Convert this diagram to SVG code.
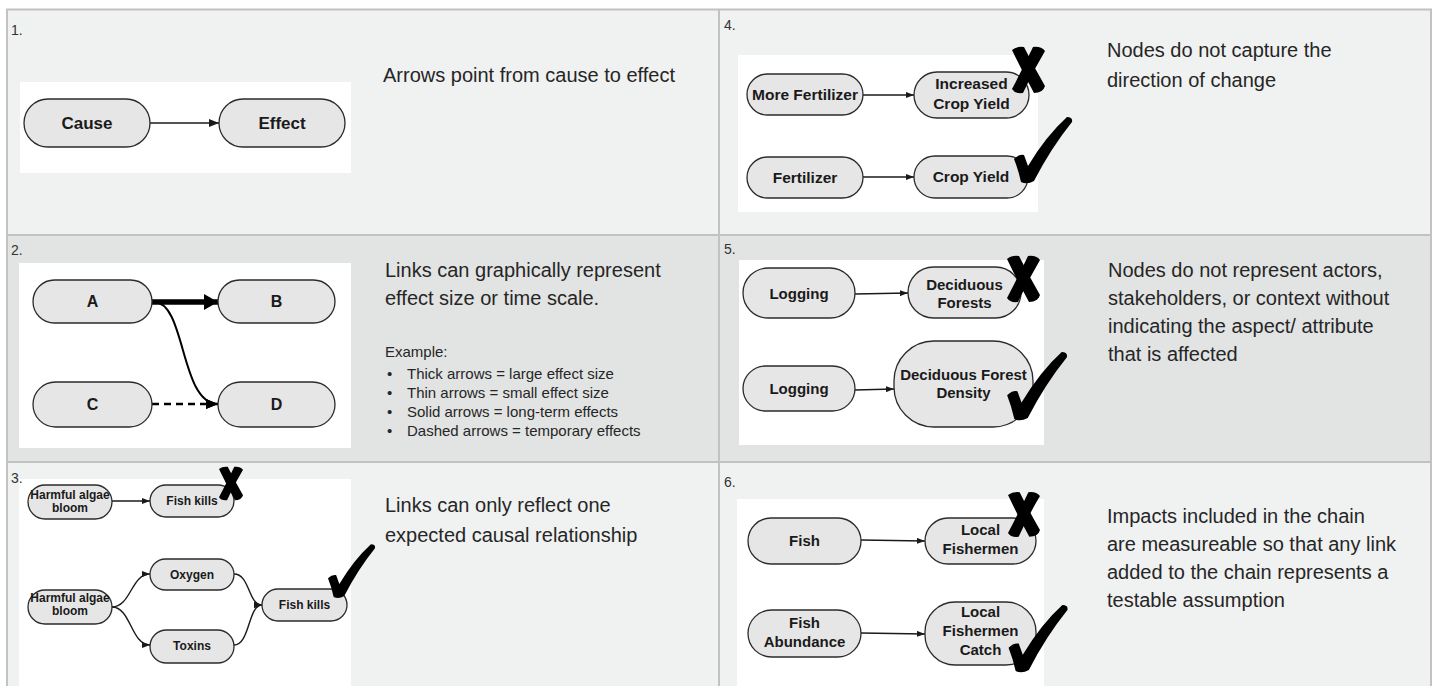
<svg xmlns="http://www.w3.org/2000/svg" width="1435" height="686" viewBox="0 0 1435 686">
<style>
.bgl{fill:#f0f1f1}
.bgd{fill:#e2e3e3}
.grid{stroke:#c2c2c2;stroke-width:2;fill:none}
.wb{fill:#ffffff}
.nd{fill:#e6e6e6;stroke:#2b2b2b;stroke-width:1.3}
.nt{font-family:"Liberation Sans",Arial,sans-serif;font-weight:bold;fill:#1a1a1a;text-anchor:middle}
.num{font-family:"Liberation Sans",Arial,sans-serif;font-size:14px;fill:#333}
.body{font-family:"Liberation Sans",Arial,sans-serif;font-size:20px;fill:#262626}
.small{font-family:"Liberation Sans",Arial,sans-serif;font-size:15px;fill:#262626}
.ln{stroke:#1a1a1a;stroke-width:1.4;fill:none}
.mark{fill:#000}
</style>
<defs>
<marker id="ah" markerUnits="userSpaceOnUse" markerWidth="10" markerHeight="8" refX="10" refY="4" orient="auto"><path d="M0,0 L10,4 L0,8 Z" fill="#1a1a1a"/></marker>
<marker id="ahs" markerUnits="userSpaceOnUse" markerWidth="8" markerHeight="6" refX="8" refY="3" orient="auto"><path d="M0,0 L8,3 L0,6 Z" fill="#1a1a1a"/></marker>
<marker id="ahb" markerUnits="userSpaceOnUse" markerWidth="14" markerHeight="16" refX="14" refY="8" orient="auto"><path d="M0,0 L14,8 L0,16 Z" fill="#000"/></marker>
<marker id="ahm" markerUnits="userSpaceOnUse" markerWidth="12" markerHeight="10" refX="12" refY="5" orient="auto"><path d="M0,0 L12,5 L0,10 Z" fill="#000"/></marker>
<symbol id="xmark" viewBox="0 0 33 46" overflow="visible">
<path d="M0,3 Q5,-1 12,0 Q22,20 33,39 Q31,46 22,46 Q10,24 0,3 Z"/>
<path d="M21,0 Q29,-1 33,4 Q21,24 11,46 Q3,47 0,42 Q11,21 21,0 Z"/>
</symbol>
<symbol id="check" viewBox="0 0 58 66" overflow="visible">
<path d="M0,42 Q5,37 10,38 L14,49 Q32,19 53,0 Q59,0 58,5 Q37,31 20,64 Q13,68 7,65 Q4,52 0,42 Z"/>
</symbol>
</defs>

<g id="backgrounds">
<rect x="7" y="9.5" width="1424" height="225.5" class="bgl"/>
<rect x="7" y="235" width="1424" height="227" class="bgd"/>
<rect x="7" y="462" width="1424" height="230" class="bgl"/>
</g>
<g id="grid">
<rect x="7" y="9.5" width="1424" height="690" class="grid"/>
<line x1="7" y1="235" x2="1431" y2="235" class="grid"/>
<line x1="7" y1="462" x2="1431" y2="462" class="grid"/>
<line x1="719" y1="9.5" x2="719" y2="686" class="grid"/>
</g>

<g id="whiteboxes">
<rect x="20" y="82" width="331" height="91" class="wb"/>
<rect x="19" y="263" width="332" height="185" class="wb"/>
<rect x="19" y="479" width="332" height="210" class="wb"/>
<rect x="738" y="55" width="300" height="157" class="wb"/>
<rect x="739" y="260" width="305" height="185" class="wb"/>
<rect x="737" y="499" width="307" height="190" class="wb"/>
</g>

<g id="labels">
<text class="num" x="11" y="35">1.</text>
<text class="num" x="11" y="255">2.</text>
<text class="num" x="11" y="483">3.</text>
<text class="num" x="724" y="30">4.</text>
<text class="num" x="724" y="254">5.</text>
<text class="num" x="724" y="487">6.</text>
<text class="body" x="383" y="82">Arrows point from cause to effect</text>
<text class="body" x="385" y="277">Links can graphically represent</text>
<text class="body" x="385" y="305">effect size or time scale.</text>
<text class="small" x="385" y="357">Example:</text>
<text class="small" x="387" y="379">•</text>
<text class="small" x="407" y="379">Thick arrows = large effect size</text>
<text class="small" x="387" y="398">•</text>
<text class="small" x="407" y="398">Thin arrows = small effect size</text>
<text class="small" x="387" y="417">•</text>
<text class="small" x="407" y="417">Solid arrows = long-term effects</text>
<text class="small" x="387" y="436">•</text>
<text class="small" x="407" y="436">Dashed arrows = temporary effects</text>
<text class="body" x="385" y="512">Links can only reflect one</text>
<text class="body" x="385" y="542">expected causal relationship</text>
<text class="body" x="1107" y="57">Nodes do not capture the</text>
<text class="body" x="1107" y="87">direction of change</text>
<text class="body" x="1108" y="277">Nodes do not represent actors,</text>
<text class="body" x="1108" y="305">stakeholders, or context without</text>
<text class="body" x="1108" y="333">indicating the aspect/ attribute</text>
<text class="body" x="1108" y="361">that is affected</text>
<text class="body" x="1107" y="523">Impacts included in the chain</text>
<text class="body" x="1107" y="551">are measureable so that any link</text>
<text class="body" x="1107" y="579">added to the chain represents a</text>
<text class="body" x="1107" y="607">testable assumption</text>
</g>

<g id="connectors">
<line x1="150" y1="123" x2="219" y2="123" class="ln" marker-end="url(#ah)"/>
<line x1="152" y1="302" x2="218" y2="302" stroke="#000" stroke-width="5.5" marker-end="url(#ahb)"/>
<path d="M154,302 C186,302 180,404 218,404" stroke="#000" stroke-width="2" fill="none" marker-end="url(#ahm)"/>
<line x1="152" y1="404" x2="218" y2="404" stroke="#000" stroke-width="2.5" stroke-dasharray="7,5" marker-end="url(#ahm)"/>
<line x1="112" y1="501" x2="150" y2="501" class="ln" stroke-width="1.1" marker-end="url(#ahs)"/>
<path d="M112,607 C131,607 131,574 150,574" class="ln" stroke-width="1.1" marker-end="url(#ahs)"/>
<path d="M112,607 C131,607 131,645 150,645" class="ln" stroke-width="1.1" marker-end="url(#ahs)"/>
<path d="M234,574 C250,574 248,605 262,605" class="ln" stroke-width="1.1" marker-end="url(#ahs)"/>
<path d="M234,645 C250,645 248,605 262,605" class="ln" stroke-width="1.1" marker-end="url(#ahs)"/>
<line x1="863" y1="95" x2="914" y2="95" class="ln" marker-end="url(#ahs)"/>
<line x1="863" y1="177" x2="914" y2="177" class="ln" marker-end="url(#ahs)"/>
<line x1="855" y1="294" x2="908" y2="293" class="ln" marker-end="url(#ahs)"/>
<line x1="855" y1="390" x2="894" y2="389" class="ln" marker-end="url(#ahs)"/>
<line x1="861" y1="540" x2="925" y2="541" class="ln" marker-end="url(#ahs)"/>
<line x1="861" y1="633" x2="925" y2="634" class="ln" marker-end="url(#ahs)"/>
</g>

<g id="n-cause"><rect x="24" y="99" width="126" height="48" rx="24" class="nd"/><text class="nt" x="87" y="129" font-size="17">Cause</text></g>
<g id="n-effect"><rect x="219" y="99" width="126" height="48" rx="24" class="nd"/><text class="nt" x="282" y="129" font-size="17">Effect</text></g>

<g id="n-a"><rect x="33" y="280" width="119" height="43" rx="21.5" class="nd"/><text class="nt" x="92.5" y="307" font-size="16">A</text></g>
<g id="n-b"><rect x="218" y="280" width="117" height="43" rx="21.5" class="nd"/><text class="nt" x="276.5" y="307" font-size="16">B</text></g>
<g id="n-c"><rect x="33" y="382" width="119" height="45" rx="22.5" class="nd"/><text class="nt" x="92.5" y="410" font-size="16">C</text></g>
<g id="n-d"><rect x="218" y="382" width="117" height="45" rx="22.5" class="nd"/><text class="nt" x="276.5" y="410" font-size="16">D</text></g>

<g id="n-hab1"><rect x="28" y="485" width="84" height="34" rx="17" class="nd"/><text class="nt" x="70" y="499" font-size="12">Harmful algae</text><text class="nt" x="70" y="512" font-size="12">bloom</text></g>
<g id="n-fishkills1"><rect x="150" y="485" width="84" height="32" rx="16" class="nd"/><text class="nt" x="192" y="505" font-size="12">Fish kills</text></g>
<g id="n-hab2"><rect x="28" y="590" width="84" height="34" rx="17" class="nd"/><text class="nt" x="70" y="602" font-size="12">Harmful algae</text><text class="nt" x="70" y="615" font-size="12">bloom</text></g>
<g id="n-oxygen"><rect x="150" y="559" width="84" height="31" rx="15.5" class="nd"/><text class="nt" x="192" y="579" font-size="12">Oxygen</text></g>
<g id="n-toxins"><rect x="150" y="630" width="84" height="33" rx="16.5" class="nd"/><text class="nt" x="192" y="650" font-size="12">Toxins</text></g>
<g id="n-fishkills2"><rect x="262" y="589" width="85" height="32" rx="16" class="nd"/><text class="nt" x="304.5" y="609" font-size="12">Fish kills</text></g>

<g id="n-morefert"><rect x="747" y="74" width="116" height="41" rx="20.5" class="nd"/><text class="nt" x="805" y="100" font-size="15.5">More Fertilizer</text></g>
<g id="n-increased"><rect x="914" y="72" width="115" height="46" rx="23" class="nd"/><text class="nt" x="971.5" y="89" font-size="15.5">Increased</text><text class="nt" x="971.5" y="109" font-size="15.5">Crop Yield</text></g>
<g id="n-fert"><rect x="747" y="157" width="116" height="41" rx="20.5" class="nd"/><text class="nt" x="805" y="183" font-size="15.5">Fertilizer</text></g>
<g id="n-cropyield"><rect x="914" y="156" width="114" height="42" rx="21" class="nd"/><text class="nt" x="971" y="182" font-size="15.5">Crop Yield</text></g>

<g id="n-logging1"><rect x="743" y="268" width="112" height="50" rx="25" class="nd"/><text class="nt" x="799" y="299" font-size="15">Logging</text></g>
<g id="n-decforests"><rect x="908" y="267" width="113" height="51" rx="25.5" class="nd"/><text class="nt" x="964.5" y="290" font-size="15">Deciduous</text><text class="nt" x="964.5" y="308" font-size="15">Forests</text></g>
<g id="n-logging2"><rect x="743" y="366" width="112" height="45" rx="22.5" class="nd"/><text class="nt" x="799" y="394" font-size="15">Logging</text></g>
<g id="n-decdensity"><rect x="894" y="341" width="139" height="86" rx="40" class="nd"/><text class="nt" x="963.5" y="380" font-size="15">Deciduous Forest</text><text class="nt" x="963.5" y="398" font-size="15">Density</text></g>

<g id="n-fish"><rect x="748" y="518" width="113" height="46" rx="23" class="nd"/><text class="nt" x="804.5" y="546" font-size="15">Fish</text></g>
<g id="n-localfish"><rect x="925" y="518" width="111" height="46" rx="23" class="nd"/><text class="nt" x="980.5" y="535" font-size="15">Local</text><text class="nt" x="980.5" y="554" font-size="15">Fishermen</text></g>
<g id="n-fishabund"><rect x="748" y="610" width="113" height="47" rx="23.5" class="nd"/><text class="nt" x="804.5" y="628" font-size="15">Fish</text><text class="nt" x="804.5" y="647" font-size="15">Abundance</text></g>
<g id="n-localcatch"><rect x="925" y="602" width="111" height="63" rx="30" class="nd"/><text class="nt" x="980.5" y="617" font-size="15">Local</text><text class="nt" x="980.5" y="636" font-size="15">Fishermen</text><text class="nt" x="980.5" y="655" font-size="15">Catch</text></g>

<g id="marks" class="mark">
<use href="#xmark" x="1012" y="47" width="33" height="46"/>
<use href="#check" x="1014" y="117" width="58" height="66"/>
<use href="#xmark" x="1007" y="255" width="33" height="48"/>
<use href="#check" x="1006" y="352" width="62" height="68"/>
<use href="#xmark" x="219" y="463" width="24" height="41"/>
<use href="#check" x="328" y="543" width="47" height="56"/>
<use href="#xmark" x="1008" y="490" width="32" height="49"/>
<use href="#check" x="1008" y="605" width="60" height="67"/>
</g>
</svg>
